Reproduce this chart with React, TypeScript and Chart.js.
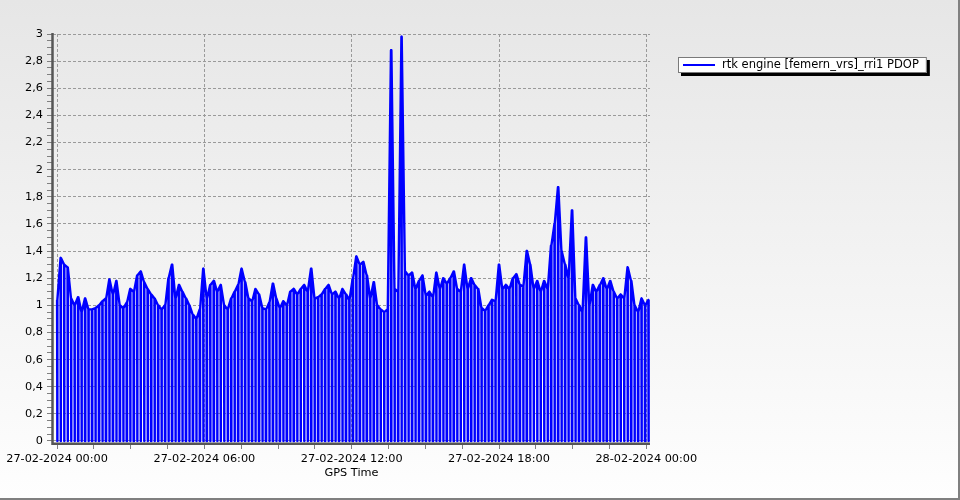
import React, { useEffect, useRef } from 'react';
import { Chart, registerables } from 'chart.js';

Chart.register(...registerables);

// ---- data ----
const seriesLabel = 'rtk engine [femern_vrs]_rri1 PDOP';
const xAxisTitle = 'GPS Time';
const startMinute = 0; // 27-02-2024 00:00
const stepMinutes = 8.5; // sampling interval of the PDOP series
const dropMinutes = 1; // duration of each drop-out to 0
const pdopValues = [
  1.04, 1.35, 1.3, 1.28, 1.05, 1.0, 1.06, 0.95, 1.05, 0.97,
  0.97, 0.98, 1.0, 1.03, 1.05, 1.19, 1.08, 1.18, 1.0, 0.98,
  1.02, 1.12, 1.1, 1.22, 1.25, 1.17, 1.12, 1.08, 1.05, 1.0,
  0.97, 1.0, 1.2, 1.3, 1.05, 1.15, 1.1, 1.05, 1.0, 0.93,
  0.9, 0.97, 1.27, 1.05, 1.15, 1.18, 1.1, 1.15, 1.0, 0.97,
  1.05, 1.1, 1.15, 1.27, 1.17, 1.05, 1.03, 1.12, 1.08, 0.98,
  0.97, 1.02, 1.16, 1.05, 0.98, 1.03, 1.0, 1.1, 1.12, 1.08,
  1.12, 1.15, 1.1, 1.27, 1.05, 1.06, 1.08, 1.12, 1.15, 1.08,
  1.1, 1.05, 1.12, 1.08, 1.04, 1.2, 1.36, 1.3, 1.32, 1.22,
  1.05, 1.17, 1.0, 0.97, 0.95, 0.97, 2.88, 1.12, 1.1, 2.98,
  1.25, 1.22, 1.24, 1.12, 1.18, 1.22, 1.07, 1.1, 1.06, 1.24,
  1.12, 1.2, 1.16, 1.2, 1.25, 1.12, 1.1, 1.3, 1.12, 1.2,
  1.15, 1.12, 0.98, 0.96, 1.0, 1.04, 1.03, 1.3, 1.12, 1.15,
  1.12, 1.2, 1.23, 1.15, 1.14, 1.4, 1.3, 1.12, 1.18, 1.1,
  1.18, 1.12, 1.44, 1.6, 1.87, 1.4, 1.3, 1.2, 1.7, 1.05,
  1.0, 0.95, 1.5, 1.0, 1.15, 1.1, 1.15, 1.2, 1.12, 1.18,
  1.1, 1.05, 1.08, 1.05, 1.28, 1.18, 1.0, 0.95, 1.05, 1.0,
  1.04,
];
const xTickMinutes = [0, 360, 720, 1080, 1440];
const xTickLabels = [
  '27-02-2024 00:00',
  '27-02-2024 06:00',
  '27-02-2024 12:00',
  '27-02-2024 18:00',
  '28-02-2024 00:00',
];
const xMinorStepMinutes = 90;
const yMajorStep = 0.2;
const yMinorStep = 0.05;
const yTop = 3;

const FONT = 'DejaVu Sans';
const FONT_SIZE = 11.3;
const LINE_COLOR = '#0000ff';

const isMultiple = (v: number, step: number) => Math.abs(v / step - Math.round(v / step)) < 1e-6;

const axisLinePlugin = {
  id: 'axisLines',
  afterDatasetsDraw(chart: any) {
    const { ctx, chartArea } = chart;
    ctx.save();
    ctx.strokeStyle = '#555';
    ctx.lineWidth = 2.5;
    ctx.setLineDash([]);
    ctx.beginPath();
    ctx.moveTo(chartArea.left - 0.5, chartArea.top - 1);
    ctx.lineTo(chartArea.left - 0.5, chartArea.bottom + 0.8);
    ctx.lineTo(chartArea.right, chartArea.bottom + 0.8);
    ctx.stroke();
    ctx.restore();
  },
};

const legendPlugin = {
  id: 'boxedLegend',
  afterDraw(chart: any) {
    const ctx = chart.ctx as CanvasRenderingContext2D;
    const ds = chart.data.datasets[0];
    ctx.save();
    ctx.font = `11.5px "${FONT}"`;
    const tw = ctx.measureText(ds.label).width;
    const bx = 678;
    const by = 57;
    const bh = 16;
    const bw = 44 + tw + 8;
    ctx.fillStyle = '#000';
    ctx.fillRect(bx + 3, by + 3, bw, bh);
    ctx.fillStyle = '#fff';
    ctx.fillRect(bx, by, bw, bh);
    ctx.strokeStyle = '#7a7a7a';
    ctx.lineWidth = 1;
    ctx.strokeRect(bx + 0.5, by + 0.5, bw - 1, bh - 1);
    ctx.strokeStyle = ds.borderColor;
    ctx.lineWidth = 2;
    ctx.beginPath();
    ctx.moveTo(bx + 5, by + 8);
    ctx.lineTo(bx + 37, by + 8);
    ctx.stroke();
    ctx.fillStyle = '#000';
    ctx.textBaseline = 'middle';
    ctx.textAlign = 'left';
    ctx.fillText(ds.label, bx + 44, by + 8.5);
    ctx.restore();
  },
};

export default function App() {
  const canvasRef = useRef<HTMLCanvasElement | null>(null);

  useEffect(() => {
    if (!canvasRef.current) return;
    Chart.defaults.font.family = FONT;
    Chart.defaults.font.size = FONT_SIZE;
    Chart.defaults.color = '#000';

    const points: { x: number; y: number }[] = [];
    pdopValues.forEach((v, i) => {
      const t = startMinute + i * stepMinutes;
      points.push({ x: t, y: v }, { x: t, y: 0 }, { x: t + dropMinutes, y: 0 }, { x: t + dropMinutes, y: v });
    });

    const xTicks: number[] = [];
    for (let m = xTickMinutes[0]; m <= xTickMinutes[xTickMinutes.length - 1] + 1e-6; m += xMinorStepMinutes) xTicks.push(m);
    const yTicks: number[] = [];
    for (let k = 0; k <= Math.round(yTop / yMinorStep); k++) yTicks.push(Math.round(k * yMinorStep * 1000) / 1000);

    const gridColor = '#9a9a9a';

    const chart = new Chart(canvasRef.current, {
      type: 'line',
      data: {
        datasets: [
          {
            label: seriesLabel,
            data: points,
            borderColor: LINE_COLOR,
            backgroundColor: LINE_COLOR,
            borderWidth: 2.4,
            pointRadius: 0,
            tension: 0,
            fill: false,
            borderJoinStyle: 'round',
          },
        ],
      },
      options: {
        animation: false,
        responsive: false,
        maintainAspectRatio: false,
        parsing: false as any,
        layout: { padding: { left: 0, top: 34, right: 310, bottom: 0 } },
        plugins: {
          legend: { display: false },
          tooltip: { enabled: false },
        },
        scales: {
          x: {
            type: 'linear',
            min: -10,
            max: 1449,
            afterBuildTicks: (scale: any) => {
              scale.ticks = xTicks.map((v) => ({ value: v }));
            },
            afterFit: (scale: any) => {
              scale.height = 57;
            },
            ticks: {
              autoSkip: false,
              maxRotation: 0,
              minRotation: 0,
              padding: 3,
              color: '#000',
              callback: (value: any) => {
                const idx = xTickMinutes.indexOf(Number(value));
                return idx >= 0 ? xTickLabels[idx] : '';
              },
            },
            grid: {
              color: (ctx: any) => (ctx.tick && isMultiple(ctx.tick.value, 360) ? gridColor : 'rgba(0,0,0,0)'),
              tickColor: '#808080',
              tickLength: 6,
              lineWidth: 1,
            },
            border: { display: false, dash: [3, 2] },
            title: {
              display: true,
              text: xAxisTitle,
              color: '#000',
              padding: { top: 0, bottom: 20 },
            },
          },
          y: {
            type: 'linear',
            min: -0.015,
            max: yTop,
            afterBuildTicks: (scale: any) => {
              scale.ticks = yTicks.map((v) => ({ value: v }));
            },
            afterFit: (scale: any) => {
              scale.width = 53;
            },
            ticks: {
              autoSkip: false,
              padding: 4,
              color: '#000',
              callback: (value: any) => {
                const v = Number(value);
                if (!isMultiple(v, yMajorStep)) return '';
                return String(Math.round(v * 10) / 10).replace('.', ',');
              },
            },
            grid: {
              color: (ctx: any) => (ctx.tick && isMultiple(ctx.tick.value, yMajorStep) ? gridColor : 'rgba(0,0,0,0)'),
              tickColor: '#808080',
              tickLength: 6,
              lineWidth: 1,
            },
            border: { display: false, dash: [3, 2] },
          },
        },
      },
      plugins: [axisLinePlugin, legendPlugin],
    });
    return () => chart.destroy();
  }, []);

  return (
    <div
      style={{
        position: 'absolute',
        left: 0,
        top: 0,
        width: 960,
        height: 500,
        boxSizing: 'border-box',
        background: 'linear-gradient(to bottom, #e6e6e6 0%, #fefefe 100%)',
        borderRight: '2px solid #808080',
        borderBottom: '2px solid #808080',
        overflow: 'hidden',
      }}
    >
      <canvas
        ref={canvasRef}
        width={960}
        height={500}
        style={{ position: 'absolute', left: 0, top: 0, width: 960, height: 500 }}
      />
    </div>
  );
}
